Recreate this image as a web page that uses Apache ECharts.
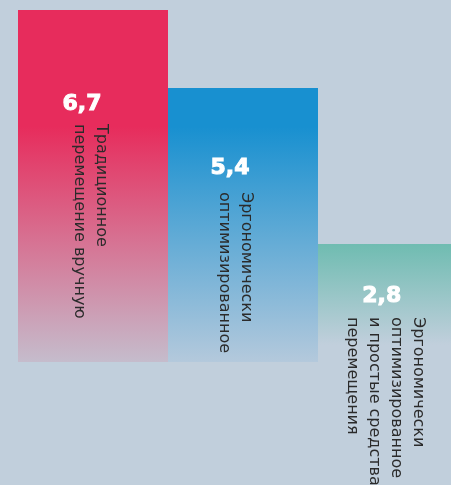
<!DOCTYPE html>
<html><head><meta charset="utf-8">
<script src="https://cdn.jsdelivr.net/npm/echarts@6/dist/echarts.min.js"></script>
<style>html,body{margin:0;padding:0;background:#c1cfdc}#c{width:451px;height:485px}</style>
</head><body><div id="c"></div><script>
// ---- data ----
const categories = [
  'Традиционное\nперемещение вручную',
  'Эргономически\nоптимизированное',
  'Эргономически\nоптимизированное\nи простые средства\nперемещения'
];
const values = [6.7, 5.4, 2.8];
const valueLabels = ['6,7', '5,4', '2,8'];

// ---- styles ----
const BG = '#c1cfdc';
const topColors = ['#e72c5c', '#1890d0', '#6fbcb1'];
const solidEnd = [0.29, 0.12, 0.0];
const endColors = ['#c5bccc', '#b4c9dc', '#c1cfdc'];
const fadeEnd = [0.875, 0.846, 0.6];
const valuePos = [[64, 94], [62, 80.5], [63.7, 52]];
const textPos = [[72.5, 114], [67, 104], [67.6, 73]];

function grad(i) {
  return new echarts.graphic.LinearGradient(0, 0, 0, 1, [
    { offset: 0, color: topColors[i] },
    { offset: solidEnd[i], color: topColors[i] },
    { offset: fadeEnd[i], color: endColors[i] },
    { offset: Math.min(1, fadeEnd[i] + 0.001), color: 'rgba(193,207,220,0)' },
    { offset: 1, color: 'rgba(193,207,220,0)' }
  ]);
}

const chart = echarts.init(document.getElementById('c'), null, { renderer: 'canvas' });
chart.setOption({
  backgroundColor: BG,
  animation: false,
  grid: { left: 18, width: 450, top: 10, bottom: 73, containLabel: false, outerBoundsMode: 'none' },
  xAxis: { type: 'category', data: categories, show: false },
  yAxis: { type: 'value', min: 0, max: 'dataMax', show: false },
  series: [
    {
      type: 'bar', barWidth: '100%', barGap: '-100%',
      data: values.map((v, i) => ({ value: v, itemStyle: { color: grad(i) }, label: { position: valuePos[i] } })),
      label: {
        show: true, formatter: p => valueLabels[p.dataIndex], color: '#ffffff',
        fontFamily: 'DejaVu Sans', fontWeight: 'bold', fontSize: 22,
        textBorderColor: '#ffffff', textBorderWidth: 1,
        align: 'center', verticalAlign: 'middle'
      }
    },
    {
      type: 'bar', barWidth: '100%', barGap: '-100%', z: 3,
      data: values.map((v, i) => ({ value: v, label: { position: textPos[i] } })),
      itemStyle: { color: 'rgba(0,0,0,0)' },
      label: {
        show: true, formatter: p => categories[p.dataIndex], rotate: -90,
        align: 'left', verticalAlign: 'middle', color: '#2b2b2b',
        fontFamily: 'DejaVu Sans', fontSize: 16, lineHeight: 22
      }
    }
  ]
});
</script></body></html>
